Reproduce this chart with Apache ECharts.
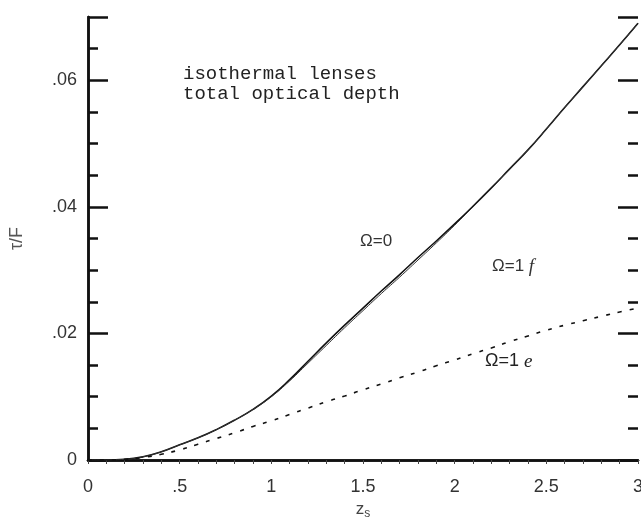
<!doctype html>
<html lang="en-US">

<head>
    <meta charset="utf-8" />
    <title>isothermal lenses - total optical depth</title>
    <script type="text/javascript" src="https://cdn.jsdelivr.net/npm/echarts@6/dist/echarts.min.js"></script>
    <style>
        html, body { margin: 0; padding: 0; background: #fff; }
        #chart { width: 641px; height: 522px; }
    </style>
</head>

<body>
    <div id="chart"></div>
</body>

<script type="text/javascript">
    // source redshift z_s, one value every 0.1
    let zs = [0, 0.1, 0.2, 0.3, 0.4, 0.5, 0.6, 0.7, 0.8, 0.9, 1.0,
        1.1, 1.2, 1.3, 1.4, 1.5, 1.6, 1.7, 1.8, 1.9, 2.0,
        2.1, 2.2, 2.3, 2.4, 2.5, 2.6, 2.7, 2.8, 2.9, 3.0];
    // tau/F
    let omega0 = [0, 0, 0.0001, 0.0005, 0.0013, 0.0024, 0.0035, 0.0048, 0.0063, 0.0080, 0.0101,
        0.0127, 0.0156, 0.0185, 0.0213, 0.0240, 0.0267, 0.0293, 0.0320, 0.0346, 0.0373,
        0.0401, 0.0430, 0.0460, 0.0490, 0.0523, 0.0557, 0.0590, 0.0623, 0.0656, 0.0690];
    let omega1f = [0, 0, 0.0001, 0.0005, 0.0013, 0.0024, 0.0035, 0.0048, 0.0063, 0.0080, 0.0100,
        0.0125, 0.0153, 0.0181, 0.0209, 0.0236, 0.0263, 0.0289, 0.0316, 0.0343, 0.0371,
        0.0400, 0.0429, 0.0460, 0.0490, 0.0523, 0.0557, 0.0590, 0.0623, 0.0656, 0.0690];
    let omega1e = [0, 0, 0.0001, 0.0004, 0.0009, 0.0016, 0.0025, 0.0034, 0.0043, 0.0053, 0.0062,
        0.0072, 0.0082, 0.0092, 0.0101, 0.0111, 0.0120, 0.0130, 0.0139, 0.0149, 0.0158,
        0.0168, 0.0177, 0.0187, 0.0196, 0.0205, 0.0213, 0.0220, 0.0227, 0.0234, 0.0240];

    let xTicks = [0, 0.5, 1, 1.5, 2, 2.5, 3];
    let yTicks = [0, 0.02, 0.04, 0.06];

    let pairs = function (ys) {
        return zs.map((z, i) => [z, ys[i]]);
    };

    let fmtY = function (v) {
        if (v === 0) return '0';
        if (yTicks.indexOf(Math.round(v * 100) / 100) < 0) return '';
        return v.toFixed(2).replace(/^0/, '');
    };

    let fmtX = function (v) {
        if (xTicks.indexOf(v) < 0) return '';
        return String(v).replace(/^0\./, '.');
    };

    let tickFont = { fontFamily: 'Liberation Sans', fontSize: 18, color: '#333' };
    let ink = '#111';

    let yAxisOf = function (pos, interval, len, labels) {
        return {
            type: 'value', position: pos, min: 0, max: 0.07, interval: interval,
            axisLine: { show: pos === 'left', lineStyle: { color: ink, width: 2.5 } },
            axisTick: { show: true, inside: true, length: len, lineStyle: { color: ink, width: 2.5 } },
            axisLabel: labels ? Object.assign({ show: true, margin: 11, formatter: fmtY }, tickFont) : { show: false },
            splitLine: { show: false },
            name: labels ? 'τ/F' : '',
            nameLocation: 'middle', nameRotate: 90, nameGap: 62,
            nameTextStyle: { fontFamily: 'Liberation Sans', fontSize: 18, color: '#555' }
        };
    };

    let chart = echarts.init(document.getElementById('chart'), null, { renderer: 'canvas' });

    let option = {
        backgroundColor: '#fff',
        animation: false,
        grid: { left: 88, right: 3, top: 17, bottom: 62, containLabel: false, outerBoundsMode: 'none' },
        xAxis: [
            {
                type: 'value', position: 'bottom', min: 0, max: 3, interval: 0.5,
                axisLine: { show: true, lineStyle: { color: ink, width: 2.5 } },
                axisTick: { show: false },
                axisLabel: Object.assign({ margin: 18, formatter: fmtX }, tickFont),
                splitLine: { show: false },
                name: '{z|z}{s|s}', nameLocation: 'middle', nameGap: 38,
                nameTextStyle: {
                    rich: {
                        z: { fontFamily: 'Liberation Sans', fontSize: 17, color: '#444' },
                        s: { fontFamily: 'Liberation Sans', fontSize: 12, color: '#444', verticalAlign: 'bottom', padding: [8, 0, 0, 0] }
                    }
                }
            },
            {
                type: 'value', position: 'top', min: 0, max: 3, interval: 0.1,
                axisLine: { show: true, lineStyle: { color: ink, width: 2.5 } },
                axisTick: { show: true, inside: true, length: 4, lineStyle: { color: '#444', width: 1 } },
                axisLabel: { show: false },
                splitLine: { show: false }
            }
        ],
        yAxis: [
            yAxisOf('left', 0.02, 20, true),
            yAxisOf('left', 0.005, 10, false),
            yAxisOf('right', 0.02, 20, false),
            yAxisOf('right', 0.005, 10, false)
        ],
        series: [
            {
                name: 'Ω=0', type: 'line', xAxisIndex: 0, yAxisIndex: 0,
                data: pairs(omega0), smooth: true, showSymbol: false,
                lineStyle: { color: ink, width: 1.6 }
            },
            {
                name: 'Ω=1 f', type: 'line', xAxisIndex: 0, yAxisIndex: 0,
                data: pairs(omega1f), smooth: true, showSymbol: false,
                lineStyle: { color: '#333', width: 1 }
            },
            {
                name: 'Ω=1 e', type: 'line', xAxisIndex: 0, yAxisIndex: 0,
                data: pairs(omega1e), smooth: true, showSymbol: false,
                lineStyle: { color: ink, width: 1.6, type: [4, 8] }
            }
        ],
        graphic: [
            {
                type: 'text', left: 183, top: 64,
                style: {
                    text: 'isothermal lenses\ntotal optical depth',
                    fontFamily: 'Liberation Mono', fontSize: 19, lineHeight: 20, fill: '#222'
                }
            },
            {
                type: 'text', left: 360, top: 233,
                style: { text: 'Ω=0', fontFamily: 'Liberation Sans', fontSize: 17, fill: '#333' }
            },
            {
                type: 'text', left: 492, top: 257,
                style: {
                    text: 'Ω=1 {i|f}', fontFamily: 'Liberation Sans', fontSize: 17, fill: '#333',
                    rich: { i: { fontStyle: 'italic', fontFamily: 'Liberation Serif', fontSize: 19, fill: '#333' } }
                }
            },
            {
                type: 'text', left: 485, top: 352,
                style: {
                    text: 'Ω=1 {i|e}', fontFamily: 'Liberation Sans', fontSize: 18, fill: '#222',
                    rich: { i: { fontStyle: 'italic', fontFamily: 'Liberation Serif', fontSize: 19, fill: '#222' } }
                }
            }
        ]
    };

    chart.setOption(option);
</script>

</html>
